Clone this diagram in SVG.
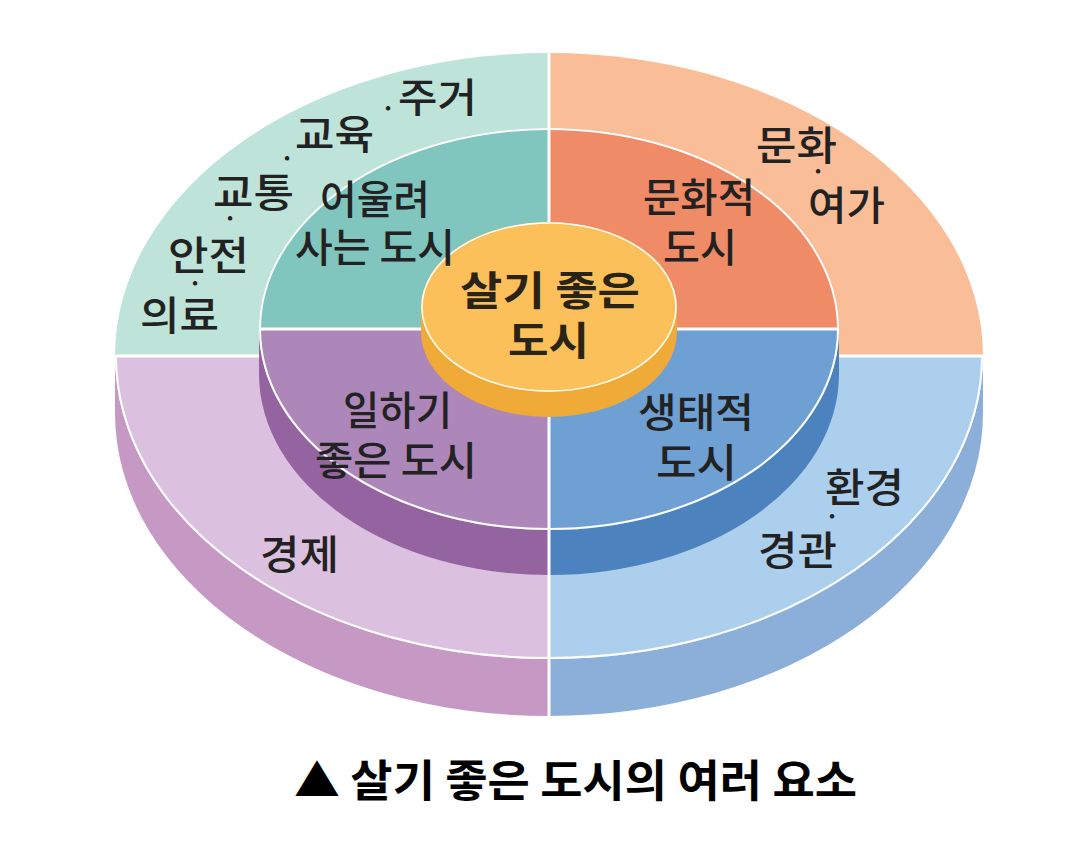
<svg xmlns="http://www.w3.org/2000/svg" width="1080" height="863" viewBox="0 0 1080 863">
<style>
.lbl{font-family:"Noto Sans CJK KR","Noto Sans",sans-serif;font-size:40px;font-weight:500;fill:#222;}
.ctr{font-family:"Noto Sans CJK KR","Noto Sans",sans-serif;font-size:40px;font-weight:700;fill:#2a2418;}
.dot{font-family:"Noto Sans CJK KR","Noto Sans",sans-serif;font-size:24px;font-weight:700;fill:#222;text-anchor:middle;}
.cap{font-family:"Noto Sans CJK KR","Noto Sans",sans-serif;font-size:44px;font-weight:700;fill:#000;}
.sep{stroke:#fff;stroke-width:3;fill:none;}
.rim{stroke:#fff;stroke-width:2;fill:none;}
</style>
<rect width="1080" height="863" fill="#fff"/>
<!-- outer ring -->
<g id="outer-living">
<path d="M549,356 H115 A434,303 0 0 1 549,53 Z" fill="#bee4da"/>
</g>
<g id="outer-culture">
<path d="M549,356 V53 A434,303 0 0 1 983,356 Z" fill="#f9be98"/>
</g>
<g id="outer-economy">
<path d="M115,356 V413 A434,303 0 0 0 549,716 V659 A434,303 0 0 1 115,356 Z" fill="#c699c5"/>
<path d="M549,356 V659 A434,303 0 0 1 115,356 Z" fill="#dcc0e0"/>
</g>
<g id="outer-environment">
<path d="M983,356 V413 A434,303 0 0 1 549,716 V659 A434,303 0 0 0 983,356 Z" fill="#8cafda"/>
<path d="M549,356 H983 A434,303 0 0 1 549,659 Z" fill="#accfee"/>
</g>
<g id="outer-lines">
<path class="rim" d="M116,356 A433,302 0 0 0 982,356"/>
<line class="sep" x1="113" y1="356" x2="985" y2="356"/>
</g>
<!-- middle ring -->
<g id="middle-together">
<path d="M549,329 H259 A290,201 0 0 1 549,128 Z" fill="#80c5be"/>
</g>
<g id="middle-cultural">
<path d="M549,329 V128 A290,201 0 0 1 839,329 Z" fill="#ef8b66"/>
</g>
<g id="middle-work">
<path d="M259,329 V374 A290,201 0 0 0 549,575 V530 A290,201 0 0 1 259,329 Z" fill="#9464a0"/>
<path d="M549,329 V530 A290,201 0 0 1 259,329 Z" fill="#ad86ba"/>
</g>
<g id="middle-ecological">
<path d="M839,329 V374 A290,201 0 0 1 549,575 V530 A290,201 0 0 0 839,329 Z" fill="#4c82be"/>
<path d="M549,329 H839 A290,201 0 0 1 549,530 Z" fill="#6ea0d3"/>
</g>
<g id="middle-lines">
<ellipse class="rim" cx="549" cy="329" rx="289" ry="200"/>
<line class="sep" x1="259" y1="329" x2="839" y2="329"/>
<line class="sep" x1="549" y1="53" x2="549" y2="717"/>
</g>
<!-- core -->
<g id="core">
<path d="M421,307 V332 A128,85 0 0 0 677,332 V307 Z" fill="#f0aa37"/>
<ellipse cx="549" cy="307" rx="128" ry="85" fill="#fbc05a"/>
<ellipse cx="549" cy="307" rx="127" ry="84" fill="none" stroke="#fff" stroke-width="1.5"/>
</g>
<!-- labels -->
<g id="labels-outer-living">
<text class="lbl" x="398" y="112" textLength="79" lengthAdjust="spacingAndGlyphs">주거</text>
<text class="lbl" x="295" y="149" textLength="79" lengthAdjust="spacingAndGlyphs">교육</text>
<text class="lbl" x="213" y="207" textLength="81" lengthAdjust="spacingAndGlyphs">교통</text>
<text class="lbl" x="168" y="270" textLength="81" lengthAdjust="spacingAndGlyphs">안전</text>
<text class="lbl" x="140" y="330" textLength="79" lengthAdjust="spacingAndGlyphs">의료</text>
<text class="dot" x="388" y="117">·</text>
<text class="dot" x="287" y="167">·</text>
<text class="dot" x="230" y="227">·</text>
<text class="dot" x="195" y="292">·</text>
</g>
<g id="labels-outer-culture">
<text class="lbl" x="756" y="160" textLength="81" lengthAdjust="spacingAndGlyphs">문화</text>
<text class="lbl" x="808" y="220" textLength="77" lengthAdjust="spacingAndGlyphs">여가</text>
<text class="dot" x="818" y="180">·</text>
</g>
<g id="labels-outer-economy">
<text class="lbl" x="260" y="569" textLength="79" lengthAdjust="spacingAndGlyphs">경제</text>
</g>
<g id="labels-outer-environment">
<text class="lbl" x="825" y="502" textLength="79" lengthAdjust="spacingAndGlyphs">환경</text>
<text class="lbl" x="758" y="565" textLength="79" lengthAdjust="spacingAndGlyphs">경관</text>
<text class="dot" x="832" y="525">·</text>
</g>
<g id="labels-middle-together">
<text class="lbl" x="320" y="214" textLength="110" lengthAdjust="spacingAndGlyphs">어울려</text>
<text class="lbl" x="295" y="262" textLength="160" lengthAdjust="spacingAndGlyphs">사는 도시</text>
</g>
<g id="labels-middle-cultural">
<text class="lbl" x="643" y="212" textLength="112" lengthAdjust="spacingAndGlyphs">문화적</text>
<text class="lbl" x="663" y="262" textLength="74" lengthAdjust="spacingAndGlyphs">도시</text>
</g>
<g id="labels-middle-work">
<text class="lbl" x="343" y="425" textLength="109" lengthAdjust="spacingAndGlyphs">일하기</text>
<text class="lbl" x="315" y="475" textLength="162" lengthAdjust="spacingAndGlyphs">좋은 도시</text>
</g>
<g id="labels-middle-ecological">
<text class="lbl" x="638" y="427" textLength="116" lengthAdjust="spacingAndGlyphs">생태적</text>
<text class="lbl" x="656" y="477" textLength="81" lengthAdjust="spacingAndGlyphs">도시</text>
</g>
<g id="labels-core">
<text class="ctr" x="460" y="305" textLength="180" lengthAdjust="spacingAndGlyphs">살기 좋은</text>
<text class="ctr" x="508" y="355" textLength="81" lengthAdjust="spacingAndGlyphs">도시</text>
</g>
<g id="caption">
<text class="cap" x="294" y="797" textLength="563" lengthAdjust="spacingAndGlyphs">▲ 살기 좋은 도시의 여러 요소</text>
</g>
</svg>
